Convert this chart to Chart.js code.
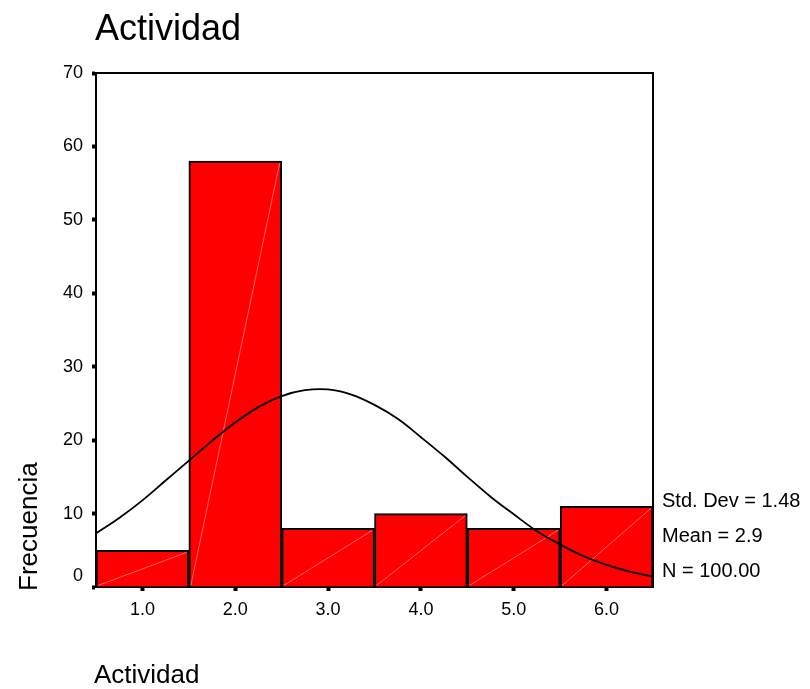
<!DOCTYPE html>
<html>
<head>
<meta charset="utf-8">
<script src="https://cdn.jsdelivr.net/npm/chart.js@4.4.0/dist/chart.umd.min.js"></script>
<style>
  html, body { margin: 0; padding: 0; background: #fff; }
  #wrap { width: 810px; height: 689px; }
</style>
</head>
<body>
<div id="wrap"><canvas id="hist" width="810" height="689"></canvas></div>
<script>
// histogram bins (midpoints) and counts
const binCenters = [1, 2, 3, 4, 5, 6];
const counts = [5, 58, 8, 10, 8, 11];
const xTickLabels = ['1.0', '2.0', '3.0', '4.0', '5.0', '6.0'];

// normal curve
const curveX = [0.5, 0.75, 1, 1.25, 1.5, 1.75, 2, 2.25, 2.5, 2.75, 3, 3.25, 3.5,
                3.75, 4, 4.25, 4.5, 4.75, 5, 5.25, 5.5, 5.75, 6, 6.25, 6.5];
const curveY = [7.3, 9.4, 11.8, 14.5, 17.2, 19.9, 22.4, 24.5, 26.0, 26.8, 26.9, 26.2, 24.8,
                22.9, 20.4, 17.8, 15.0, 12.3, 9.9, 7.6, 5.8, 4.2, 3.0, 2.1, 1.4];

const stats = ['Std. Dev = 1.48', 'Mean = 2.9', 'N = 100.00'];

const FONT = '"Liberation Sans", Arial, sans-serif';

// white diagonal in each bar, frame on top/right, and the loose texts
const decor = {
  id: 'decor',
  afterDatasetDraw(chart, args) {
    if (args.index !== 0) return;
    const c = chart.ctx;
    c.save();
    c.strokeStyle = 'rgba(255,255,255,0.5)';
    c.lineWidth = 0.8;
    args.meta.data.forEach(bar => {
      const left = bar.x - bar.width / 2, right = bar.x + bar.width / 2;
      c.beginPath();
      c.moveTo(left + 2, bar.base - 1);
      c.lineTo(right - 2, bar.y + 2);
      c.stroke();
    });
    c.restore();
  },
  afterDraw(chart) {
    const c = chart.ctx;
    const a = chart.chartArea;
    c.save();
    c.strokeStyle = '#000';
    c.lineWidth = 2;
    c.beginPath();
    c.moveTo(a.left, a.top);
    c.lineTo(a.right, a.top);
    c.lineTo(a.right, a.bottom);
    c.stroke();

    c.fillStyle = '#000';
    c.textBaseline = 'alphabetic';
    c.textAlign = 'left';
    c.font = '36px ' + FONT;
    c.fillText('Actividad', 95, 40);
    c.font = '26px ' + FONT;
    c.fillText('Actividad', 94, 683);

    c.font = '20px ' + FONT;
    stats.forEach((s, i) => c.fillText(s, 662, 507 + i * 35));

    c.save();
    c.translate(37, 591);
    c.rotate(-Math.PI / 2);
    c.font = '26px ' + FONT;
    c.fillText('Frecuencia', 0, 0);
    c.restore();
    c.restore();
  }
};

new Chart(document.getElementById('hist'), {
  data: {
    datasets: [{
      type: 'bar',
      order: 2,
      data: binCenters.map((x, i) => ({ x: x, y: counts[i] })),
      backgroundColor: '#ff0000',
      borderColor: '#000',
      borderWidth: 2,
      borderSkipped: 'start',
      barPercentage: 1,
      categoryPercentage: 1
    }, {
      type: 'line',
      order: 1,
      data: curveX.map((x, i) => ({ x: x, y: curveY[i] })),
      borderColor: '#000',
      borderWidth: 1.8,
      pointRadius: 0,
      tension: 0.4,
      fill: false
    }]
  },
  options: {
    responsive: false,
    animation: false,
    layout: { padding: { top: 73, right: 157, left: 0, bottom: 0 } },
    plugins: { legend: { display: false }, tooltip: { enabled: false }, title: { display: false } },
    scales: {
      x: {
        type: 'linear',
        min: 0.5,
        max: 6.5,
        offset: false,
        afterFit(scale) { scale.height = 102; },
        afterBuildTicks(scale) { scale.ticks = binCenters.map(v => ({ value: v })); },
        ticks: {
          color: '#000',
          font: { family: FONT, size: 18 },
          padding: 8,
          maxRotation: 0,
          callback: (v, i) => xTickLabels[i]
        },
        grid: { offset: false, drawOnChartArea: false, drawTicks: true, tickLength: 4, tickWidth: 4, color: '#000' },
        border: { display: true, color: '#000', width: 2 }
      },
      y: {
        min: 0,
        max: 70,
        afterFit(scale) { scale.width = 96; },
        ticks: {
          stepSize: 10,
          color: '#000',
          font: { family: FONT, size: 18 },
          padding: 9,
          callback: v => v === 0 ? ['0', ''] : String(v)
        },
        grid: { drawOnChartArea: false, drawTicks: true, tickLength: 4, tickWidth: 4, color: '#000' },
        border: { display: true, color: '#000', width: 2 }
      }
    }
  },
  plugins: [decor]
});
</script>
</body>
</html>
